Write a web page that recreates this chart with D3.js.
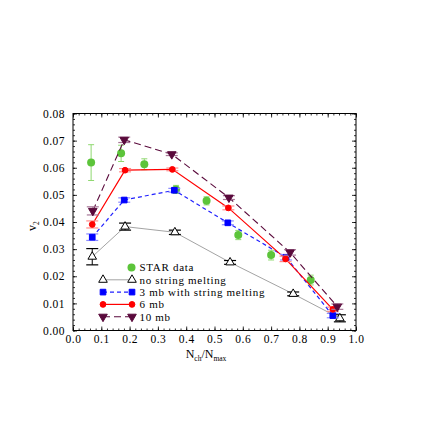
<!DOCTYPE html>
<html>
<head>
<meta charset="utf-8">
<script src="https://d3js.org/d3.v7.min.js"></script>
<style>
  body { margin: 0; background: #fff; }
  text { font-family: "Liberation Serif", "Times New Roman", serif; }
</style>
</head>
<body>
<div id="chart-area"></div>
<script>
// data
var starX   = [0.064, 0.170, 0.252, 0.364, 0.472, 0.584, 0.700, 0.840];
var starV2  = [0.0619, 0.0653, 0.0613, 0.0520, 0.0478, 0.0352, 0.0278, 0.0186];
var starErr = [0.0066, 0.0030, 0.0020, 0.0015, 0.0015, 0.0017, 0.0018, 0.0018];

var nsmX   = [0.068, 0.184, 0.360, 0.555, 0.778, 0.943];
var nsmV2  = [0.0272, 0.0383, 0.0362, 0.0251, 0.0135, 0.0045];
var nsmErr = [0.0030, 0.0013, 0.0008, 0.0007, 0.0007, 0.0013];

var mb3X   = [0.068, 0.181, 0.358, 0.547, 0.753, 0.918];
var mb3V2  = [0.0344, 0.0481, 0.0517, 0.0397, 0.0270, 0.0055];
var mb3Err = [0.0012, 0.0008, 0.0007, 0.0007, 0.0010, 0.0008];

var mb6X   = [0.068, 0.184, 0.351, 0.549, 0.751, 0.918];
var mb6V2  = [0.0391, 0.0591, 0.0594, 0.0452, 0.0264, 0.0078];
var mb6Err = [0.0013, 0.0006, 0.0005, 0.0007, 0.0010, 0.0008];

var mb10X   = [0.070, 0.181, 0.349, 0.551, 0.767, 0.934];
var mb10V2  = [0.0441, 0.0703, 0.0650, 0.0490, 0.0288, 0.0088];
var mb10Err = [0.0015, 0.0010, 0.0005, 0.0007, 0.0010, 0.0010];

var xTicks = [0.0, 0.1, 0.2, 0.3, 0.4, 0.5, 0.6, 0.7, 0.8, 0.9, 1.0];
var yTicks = [0.00, 0.01, 0.02, 0.03, 0.04, 0.05, 0.06, 0.07, 0.08];

var margin = { left: 73, right: 87, top: 113.5, bottom: 112.5 };
var width = 443 - margin.left - margin.right,
    height = 443 - margin.top - margin.bottom;

var svg = d3.select("#chart-area").append("svg")
    .attr("width", 443).attr("height", 443);
var g = svg.append("g")
    .attr("transform", "translate(" + margin.left + "," + margin.top + ")");

var x = d3.scaleLinear().domain([0, 1]).range([0, width]);
var y = d3.scaleLinear().domain([0, 0.08]).range([height, 0]);

function zip(xs, ys, es) {
    return xs.map(function(v, i){ return { x: v, y: ys[i], e: es ? es[i] : 0 }; });
}

// frame
g.append("rect").attr("width", width).attr("height", height)
    .attr("fill", "none").attr("stroke", "#000").attr("stroke-width", 1);

// minor ticks
var xMinor = d3.range(0, 1.0001, 0.02);
var yMinor = d3.range(0, 0.08001, 0.002);
function styleAxis(sel) {
    sel.select(".domain").remove();
    sel.selectAll("line").attr("stroke", "#000").attr("stroke-width", 0.8);
    sel.selectAll("text").attr("font-size", 11.5).attr("letter-spacing", 0.5).attr("fill", "#000");
}
g.append("g").attr("transform", "translate(0," + height + ")")
    .call(d3.axisBottom(x).tickValues(xMinor).tickSize(-2).tickFormat(""))
    .call(styleAxis);
g.append("g")
    .call(d3.axisTop(x).tickValues(xMinor).tickSize(-2).tickFormat(""))
    .call(styleAxis);
g.append("g")
    .call(d3.axisLeft(y).tickValues(yMinor).tickSize(-2).tickFormat(""))
    .call(styleAxis);
g.append("g").attr("transform", "translate(" + width + ",0)")
    .call(d3.axisRight(y).tickValues(yMinor).tickSize(-2).tickFormat(""))
    .call(styleAxis);

// major ticks with labels
g.append("g").attr("transform", "translate(0," + height + ")")
    .call(d3.axisBottom(x).tickValues(xTicks).tickSize(-4).tickPadding(4).tickFormat(d3.format(".1f")))
    .call(styleAxis);
g.append("g")
    .call(d3.axisTop(x).tickValues(xTicks).tickSize(-4).tickFormat(""))
    .call(styleAxis);
g.append("g")
    .call(d3.axisLeft(y).tickValues(yTicks).tickSize(-4).tickPadding(8).tickFormat(d3.format(".2f")))
    .call(styleAxis);
g.append("g").attr("transform", "translate(" + width + ",0)")
    .call(d3.axisRight(y).tickValues(yTicks).tickSize(-4).tickFormat(""))
    .call(styleAxis);

// axis titles
var xt = svg.append("text").attr("x", 206).attr("y", 358)
    .attr("text-anchor", "middle").attr("font-size", 12);
xt.append("tspan").text("N");
xt.append("tspan").attr("font-size", 7.5).attr("dy", 2.5).text("ch");
xt.append("tspan").attr("dy", -2.5).text("/N");
xt.append("tspan").attr("font-size", 7.5).attr("dy", 2.5).text("max");

var yt = svg.append("text").attr("transform", "translate(36,226) rotate(-90)")
    .attr("text-anchor", "middle").attr("font-size", 12);
yt.append("tspan").text("v");
yt.append("tspan").attr("font-size", 7.5).attr("dy", 2.5).text("2");

// STAR data (drawn under the model curves)
var starColor = "#5cc43a", starErrColor = "#8fd870";
var star = zip(starX, starV2, starErr);
var sg = g.append("g");
star.forEach(function(d) {
    var px = x(d.x);
    sg.append("line").attr("x1", px).attr("x2", px)
        .attr("y1", y(d.y - d.e)).attr("y2", y(d.y + d.e))
        .attr("stroke", starErrColor).attr("stroke-width", 1);
    [d.y - d.e, d.y + d.e].forEach(function(v) {
        sg.append("line").attr("x1", px - 3).attr("x2", px + 3)
            .attr("y1", y(v)).attr("y2", y(v))
            .attr("stroke", starErrColor).attr("stroke-width", 1);
    });
});
sg.selectAll("circle").data(star).enter().append("circle")
    .attr("cx", function(d){ return x(d.x); })
    .attr("cy", function(d){ return y(d.y); })
    .attr("r", 4).attr("fill", starColor);

// model series
var series = [
    { name: "no string melting", data: zip(nsmX, nsmV2, nsmErr), line: "#8c8c8c", lw: 0.8, dash: null,
      err: "#000", sym: "triangle", fill: "#fff", stroke: "#000", size: 32 },
    { name: "3 mb with string melting", data: zip(mb3X, mb3V2, mb3Err), line: "#2020ff", lw: 1.2, dash: "4,3",
      err: "#8c8cff", sym: "square", fill: "#0000ff", stroke: "#0000ff", size: 32 },
    { name: "6 mb", data: zip(mb6X, mb6V2, mb6Err), line: "#ff0000", lw: 1.2, dash: null,
      err: "#ff8c8c", sym: "circle", fill: "#ff0000", stroke: "#ff0000", size: 26 },
    { name: "10 mb", data: zip(mb10X, mb10V2, mb10Err), line: "#5a0a3c", lw: 1.1, dash: "7,4",
      err: "#a87898", sym: "triangleDown", fill: "#5a0a3c", stroke: "#5a0a3c", size: 32 }
];

function symPath(s, size) {
    if (s === "triangle" || s === "triangleDown") return d3.symbol().type(d3.symbolTriangle).size(size)();
    if (s === "square") return d3.symbol().type(d3.symbolSquare).size(size)();
    if (s === "diamond") return d3.symbol().type(d3.symbolDiamond).size(size)();
    return d3.symbol().type(d3.symbolCircle).size(size)();
}
function symTransform(s, px, py) {
    return "translate(" + px + "," + py + ")" + (s === "triangleDown" ? " rotate(180)" : "");
}

var line = d3.line().x(function(d){ return x(d.x); }).y(function(d){ return y(d.y); });

series.forEach(function(s) {
    g.append("path").datum(s.data)
        .attr("d", line).attr("fill", "none")
        .attr("stroke", s.line).attr("stroke-width", s.lw)
        .attr("stroke-dasharray", s.dash);
});

series.forEach(function(s) {
    var eg = g.append("g");
    s.data.forEach(function(d) {
        var px = x(d.x);
        eg.append("line").attr("x1", px).attr("x2", px)
            .attr("y1", y(d.y - d.e)).attr("y2", y(d.y + d.e))
            .attr("stroke", s.err).attr("stroke-width", 1);
        [d.y - d.e, d.y + d.e].forEach(function(v) {
            eg.append("line").attr("x1", px - 6).attr("x2", px + 6)
                .attr("y1", y(v)).attr("y2", y(v))
                .attr("stroke", s.err).attr("stroke-width", 1.2);
        });
    });
    g.append("g").selectAll("path").data(s.data).enter()
        .append("path")
            .attr("d", symPath(s.sym, s.size))
            .attr("transform", function(d){ return symTransform(s.sym, x(d.x), y(d.y)); })
            .attr("fill", s.fill).attr("stroke", s.stroke).attr("stroke-width", 1);
});

// legend
var leg = svg.append("g");
var ly = [267.5, 279.8, 292.1, 304.4, 316.7];
var legFont = 11;
leg.append("circle").attr("cx", 131.5).attr("cy", ly[0]).attr("r", 4).attr("fill", starColor);
leg.append("text").attr("x", 139.5).attr("y", ly[0] + 3.8).attr("font-size", legFont)
    .attr("letter-spacing", 0.7).text("STAR data");
series.forEach(function(s, i) {
    var yy = ly[i + 1];
    leg.append("line").attr("x1", 103).attr("x2", 132).attr("y1", yy).attr("y2", yy)
        .attr("stroke", s.line).attr("stroke-width", s.lw).attr("stroke-dasharray", s.dash);
    [103, 132].forEach(function(px) {
        leg.append("path").attr("d", symPath(s.sym, s.size))
            .attr("transform", symTransform(s.sym, px, yy))
            .attr("fill", s.fill).attr("stroke", s.stroke).attr("stroke-width", 1);
    });
    leg.append("text").attr("x", 139.5).attr("y", yy + 3.8).attr("font-size", legFont)
        .attr("letter-spacing", 0.7).text(s.name);
});
</script>
</body>
</html>
